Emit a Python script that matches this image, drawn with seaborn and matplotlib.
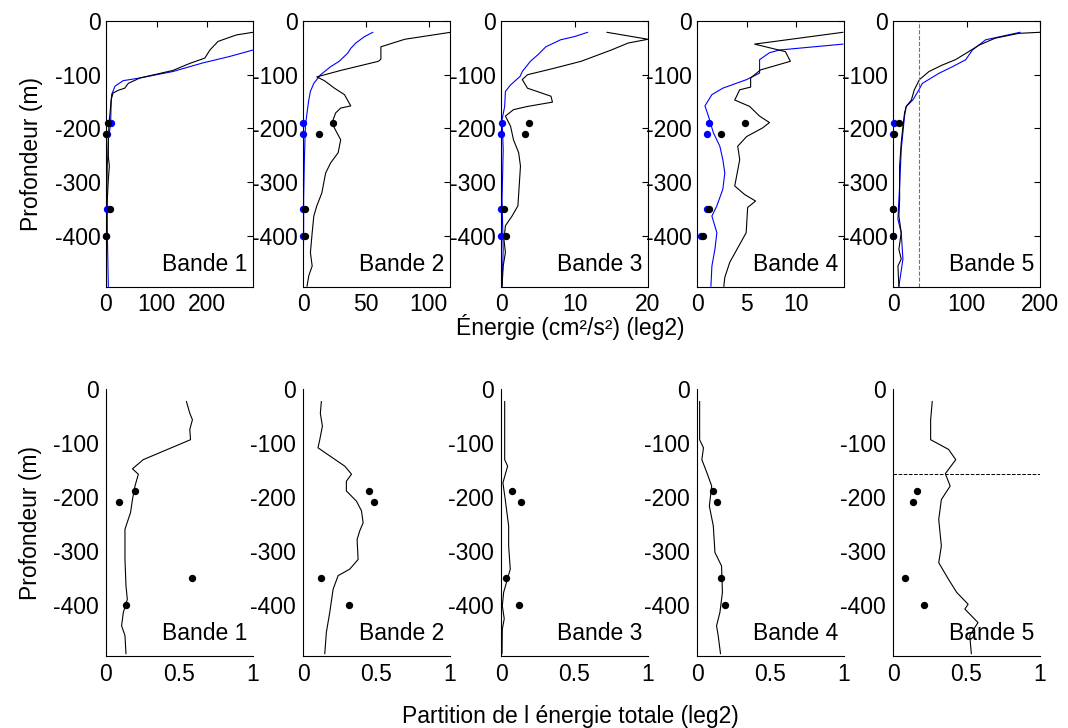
import numpy as np
import matplotlib
matplotlib.use("Agg")
import matplotlib.pyplot as plt
import seaborn as sns

# -----------------------------
# Data
# -----------------------------
bands = ["Bande 1", "Bande 2", "Bande 3", "Bande 4", "Bande 5"]
dot_depth = [-190, -210, -350, -400]

# top row: energy profiles (black = total, blue = other)
e1_black_x = [290, 257, 221, 205, 195, 165, 132, 67, 44, 37, 24, 14, 10, 8, 6, 4.6, 4.6, 6.6, 4.6, 2.6, 1.3, 0]
e1_black_d = [-21, -26, -38, -54, -69, -79, -92, -106, -116, -125, -129, -134, -147, -171, -190, -221, -252, -270, -295, -332, -394, -494]
e1_blue_x = [290, 244, 191, 132, 67, 34, 18, 11, 9.8, 9.2, 4.6, 2.6, 1.3, 2.6, 4.6]
e1_blue_d = [-54, -66, -78, -94, -106, -111, -121, -137, -165, -190, -221, -270, -332, -394, -494]

e2_black_x = [117.5, 81, 62, 62, 60, 30, 11, 17, 25, 33, 38, 30, 26, 23, 27, 30, 28, 22, 18, 15, 11, 8.6, 7.3, 5.9, 7.3, 4.6, 3.2]
e2_black_d = [-21, -34, -48, -71, -75, -92, -104, -111, -125, -137, -158, -162, -171, -190, -208, -221, -245, -264, -283, -320, -344, -363, -394, -431, -456, -474, -494]
e2_blue_x = [55.6, 49, 42, 38, 35.5, 28.8, 22, 14, 8.6, 5.9, 4.6, 3.2, 1.9, 1.1, 0.5, 0.5, 0]
e2_blue_d = [-21, -29, -41, -51, -60, -75, -85, -100, -116, -131, -147, -171, -196, -258, -332, -394, -494]

e3_black_x = [14.4, 20, 17.3, 15, 10.9, 7.2, 3.6, 2.9, 3.6, 6.8, 7, 3.6, 1.7, 0.6, 1.3, 1.7, 2.4, 2.65, 2.3, 1.5, 0.6, 0.4, 0.6, 0.3, 0.14]
e3_black_d = [-21, -34, -41, -54, -75, -88, -100, -109, -125, -140, -151, -159, -165, -177, -196, -221, -245, -270, -344, -363, -381, -406, -431, -456, -494]
e3_blue_x = [11.8, 10, 8.1, 6.1, 5, 4, 2.9, 2.6, 1.3, 0.6, 0.5, 0.14, 0.3, 0.14, 0.3, 0.14]
e3_blue_d = [-21, -29, -35, -48, -63, -75, -94, -103, -119, -131, -159, -184, -239, -332, -425, -494]

e4_black_x = [14.7, 5.8, 8.9, 9.4, 6.4, 5.4, 5.4, 4.3, 3.8, 5.3, 6.3, 7.3, 6.6, 5, 4.1, 4.3, 3.8, 4.8, 5.9, 5.1, 4.95, 3.3, 2.8, 2.7]
e4_black_d = [-21, -43, -57, -75, -91, -106, -123, -128, -147, -159, -177, -189, -199, -215, -233, -258, -307, -323, -335, -347, -394, -449, -477, -494]
e4_blue_x = [14.7, 8.3, 7.3, 6.3, 6.3, 5, 2.6, 1.5, 0.8, 1.15, 1.65, 2.3, 2.6, 2.8, 2.6, 2, 1.5, 2, 1.8, 1.5, 1.4]
e4_blue_d = [-43, -54, -59, -72, -97, -109, -125, -137, -158, -177, -208, -233, -258, -283, -313, -344, -363, -394, -425, -456, -494]

e5_black_x = [200, 171, 139, 117, 103, 85, 67, 49, 36, 29, 25, 18, 15.7, 13.5, 11.2, 9, 9, 8, 11.2, 8, 11.2, 6.7, 8]
e5_black_d = [-21, -23, -32, -45, -57, -72, -82, -94, -109, -128, -147, -159, -171, -196, -227, -270, -332, -363, -394, -425, -443, -456, -494]
e5_blue_x = [173, 126, 108, 99, 81, 63, 40, 34, 27, 18, 15.7, 11.2, 9, 6.7, 11.2, 13.5, 8]
e5_blue_d = [-21, -35, -54, -72, -85, -97, -116, -131, -147, -159, -177, -239, -307, -369, -394, -443, -494]

# dots at the four instrument depths
e_black_dots = [[4, 0.5, 7, 0.5], [24, 12.6, 1.9, 1.9], [3.8, 3.2, 0.45, 0.7], [4.8, 2.4, 1.2, 0.6], [8, 2, 0, 0]]
e_blue_dots = [[9, 1, 1, 0.5], [0, 0, 0, 0], [0.2, 0, 0, 0], [1.2, 1.0, 1.0, 0.4], [1, 0, 0, 0]]
e_xmax = [290, 117, 20, 14.8, 200]
e_xticks = [[0, 100, 200], [0, 50, 100], [0, 10, 20], [0, 5, 10], [0, 100, 200]]
e5_vline = 36

# bottom row: partition of total energy
p1_x = [0.547, 0.57, 0.588, 0.57, 0.575, 0.253, 0.18, 0.22, 0.197, 0.18, 0.167, 0.129, 0.129, 0.136, 0.145, 0.118, 0.106, 0.129, 0.136]
p1_d = [-23, -45, -57, -75, -94, -131, -148, -158, -180, -205, -229, -260, -316, -365, -390, -414, -439, -457, -491]
p2_x = [0.125, 0.118, 0.132, 0.114, 0.102, 0.182, 0.284, 0.33, 0.295, 0.295, 0.364, 0.398, 0.409, 0.386, 0.368, 0.375, 0.318, 0.239, 0.205, 0.182, 0.159, 0.148]
p2_d = [-23, -45, -69, -94, -109, -124, -143, -158, -171, -189, -208, -226, -248, -263, -279, -316, -334, -346, -371, -414, -451, -491]
p3_x = [0.025, 0.025, 0.045, 0.013, 0.029, 0.052, 0.052, 0.063, 0.018, 0.009, 0.022, 0.009, 0.007]
p3_d = [-23, -131, -143, -174, -205, -254, -291, -334, -377, -402, -426, -445, -491]
p4_x = [0.018, 0.018, 0.044, 0.033, 0.067, 0.1, 0.084, 0.111, 0.122, 0.167, 0.173, 0.156, 0.133, 0.144, 0.16]
p4_d = [-23, -94, -109, -131, -155, -180, -217, -254, -303, -328, -377, -414, -439, -457, -491]
p5_x = [0.267, 0.256, 0.256, 0.378, 0.427, 0.356, 0.389, 0.329, 0.311, 0.329, 0.311, 0.378, 0.433, 0.511, 0.489, 0.578, 0.522, 0.533]
p5_d = [-23, -57, -94, -112, -131, -157, -180, -205, -242, -291, -322, -353, -377, -399, -408, -433, -457, -491]
p_dots = [[0.2, 0.086, 0.586, 0.136], [0.448, 0.486, 0.125, 0.316], [0.074, 0.137, 0.036, 0.121],
          [0.107, 0.133, 0.16, 0.189], [0.162, 0.133, 0.084, 0.213]]
p5_hline = -157

energy = [(e1_black_x, e1_black_d, e1_blue_x, e1_blue_d), (e2_black_x, e2_black_d, e2_blue_x, e2_blue_d),
          (e3_black_x, e3_black_d, e3_blue_x, e3_blue_d), (e4_black_x, e4_black_d, e4_blue_x, e4_blue_d),
          (e5_black_x, e5_black_d, e5_blue_x, e5_blue_d)]
partition = [(p1_x, p1_d), (p2_x, p2_d), (p3_x, p3_d), (p4_x, p4_d), (p5_x, p5_d)]

# -----------------------------
# Figure
# -----------------------------
sns.set_style("white")
plt.rcParams['font.family'] = ['Liberation Sans', 'DejaVu Sans']
plt.rcParams['font.size'] = 16.5
plt.rcParams['text.color'] = 'black'
plt.rcParams['axes.labelcolor'] = 'black'
plt.rcParams['xtick.color'] = 'black'
plt.rcParams['ytick.color'] = 'black'

fig = plt.figure(figsize=(10.68, 7.28), dpi=100)
W, H = 1068, 728
lefts = [106, 303, 501, 697, 893]
width = 147
yticks = [0, -100, -200, -300, -400]
ylabels = ["0", "-100", "-200", "-300", "-400"]
BLUE = "#0000ff"

for i in range(5):
    # ---- top row ----
    ax = fig.add_axes([lefts[i] / W, 1 - 287 / H, width / W, (287 - 21) / H])
    bx, bd, ux, ud = energy[i]
    sns.lineplot(x=ux, y=ud, sort=False, estimator=None, color=BLUE, lw=0.8, ax=ax)
    sns.lineplot(x=bx, y=bd, sort=False, estimator=None, color="black", lw=0.8, ax=ax)
    sns.scatterplot(x=e_blue_dots[i], y=dot_depth, color=BLUE, s=28, linewidth=0, ax=ax, clip_on=False, zorder=3)
    sns.scatterplot(x=e_black_dots[i], y=dot_depth, color="black", s=28, linewidth=0, ax=ax, clip_on=False, zorder=4)
    if i == 4:
        ax.axvline(e5_vline, color="0.45", ls="--", lw=0.8)
    ax.set_xlim(0, e_xmax[i])
    ax.set_ylim(-495, 0)
    ax.set_xticks(e_xticks[i])
    ax.set_xticklabels([str(t) for t in e_xticks[i]])
    ax.set_yticks(yticks)
    ax.set_yticklabels(ylabels)
    ax.tick_params(direction="in", length=4, width=0.8, top=True, right=True, pad=4)
    for s in ax.spines.values():
        s.set_linewidth(0.8)
        s.set_color("black")
    ax.text(0.96, 0.04, bands[i], transform=ax.transAxes, ha="right", va="bottom")
    ax.set_xlabel("")
    ax.set_ylabel("Profondeur (m)" if i == 0 else "", labelpad=8)

    # ---- bottom row ----
    ax2 = fig.add_axes([lefts[i] / W, 1 - 656 / H, width / W, (656 - 389) / H])
    px, pd_ = partition[i]
    sns.lineplot(x=px, y=pd_, sort=False, estimator=None, color="black", lw=0.8, ax=ax2)
    sns.scatterplot(x=p_dots[i], y=dot_depth, color="black", s=28, linewidth=0, ax=ax2, clip_on=False, zorder=4)
    if i == 4:
        ax2.axhline(p5_hline, color="black", ls="--", lw=0.7)
    ax2.set_xlim(0, 1)
    ax2.set_ylim(-495, 0)
    ax2.set_xticks([0, 0.5, 1])
    ax2.set_xticklabels(["0", "0.5", "1"])
    ax2.set_yticks(yticks)
    ax2.set_yticklabels(ylabels)
    ax2.tick_params(direction="in", length=4, width=0.8, pad=5)
    ax2.spines["top"].set_visible(False)
    ax2.spines["right"].set_visible(False)
    for s in ["left", "bottom"]:
        ax2.spines[s].set_linewidth(0.8)
        ax2.spines[s].set_color("black")
    ax2.text(0.96, 0.04, bands[i], transform=ax2.transAxes, ha="right", va="bottom")
    ax2.set_xlabel("")
    ax2.set_ylabel("Profondeur (m)" if i == 0 else "", labelpad=8)

fig.text(570 / W, 1 - 327 / H, "Énergie (cm²/s²) (leg2)", ha="center", va="center")
fig.text(570 / W, 1 - 716 / H, "Partition de l énergie totale (leg2)", ha="center", va="center")

fig.savefig("out.png", dpi=100)
